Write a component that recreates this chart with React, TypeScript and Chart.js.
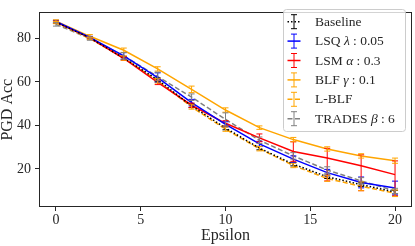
import { useEffect, useRef } from 'react';
import { Chart, registerables } from 'chart.js';
Chart.register(...registerables);

const epsilons = [0, 2, 4, 6, 8, 10, 12, 14, 16, 18, 20];
const xTicks = [0, 5, 10, 15, 20];
const yTicks = [20, 40, 60, 80];

const baseline = [87.5, 80.3, 71, 61, 49, 38.8, 29.6, 22.2, 16.4, 12.8, 9.4];
const baselineErr = [0.6, 0.5, 0.8, 0.8, 0.8, 0.8, 0.8, 0.8, 0.8, 0.8, 0.8];
const lsq = [87.8, 80.5, 72, 62, 50.5, 40.5, 31.5, 24.5, 18.3, 13.8, 11.2];
const lsqErr = [0.6, 0.5, 1.5, 2.2, 1.5, 1.2, 1.2, 1.5, 1.5, 2.5, 3.2];
const lsm = [87.5, 80.3, 70.8, 59.8, 49.3, 41, 34.3, 28, 25, 21.5, 17.4];
const lsmErrUp = [0.5, 0.5, 0.8, 1, 1, 1.2, 1.8, 4.5, 4.5, 5, 6.3];
const lsmErrDown = [0.5, 0.5, 0.8, 1, 1, 1.2, 1.8, 4.5, 10.5, 11.5, 9.8];
const blf = [88, 81, 74.6, 66, 56.6, 47.1, 39, 33.5, 29.2, 26, 23.8];
const blfErr = [0.6, 0.8, 1, 1, 1.5, 1, 0.8, 1, 1, 1, 1.2];
const lblf = [87.3, 80, 71, 60.5, 48.5, 38.3, 29.3, 21.6, 15.6, 12, 8.8];
const lblfErr = [0.5, 0.5, 1, 1, 1, 1, 1, 1, 1.3, 2, 1.5];
const trades = [86.5, 80, 72, 62.5, 53, 42.8, 33.2, 26, 19.5, 14.5, 9.9];
const tradesErr = [0.8, 0.8, 1.5, 2, 1.5, 3, 1.5, 1.5, 1.5, 1.5, 1.2];

const FONT = '"Liberation Serif", "Times New Roman", serif';

type Seg = { t: string; it?: boolean };
type Series = {
  label: Seg[];
  values: number[];
  up: number[];
  down: number[];
  color: string;
  dash: number[];
};

const series: Series[] = [
  { label: [{ t: 'Baseline' }], values: baseline, up: baselineErr, down: baselineErr, color: '#000000', dash: [1.5, 2] },
  { label: [{ t: 'LSQ ' }, { t: 'λ', it: true }, { t: ' : 0.05' }], values: lsq, up: lsqErr, down: lsqErr, color: '#0000ff', dash: [] },
  { label: [{ t: 'LSM ' }, { t: 'α', it: true }, { t: ' : 0.3' }], values: lsm, up: lsmErrUp, down: lsmErrDown, color: '#ff0000', dash: [] },
  { label: [{ t: 'BLF ' }, { t: 'γ', it: true }, { t: ' : 0.1' }], values: blf, up: blfErr, down: blfErr, color: '#ffa500', dash: [] },
  { label: [{ t: 'L-BLF' }], values: lblf, up: lblfErr, down: lblfErr, color: '#ffa500', dash: [5, 2.5] },
  { label: [{ t: 'TRADES ' }, { t: 'β', it: true }, { t: ' : 6' }], values: trades, up: tradesErr, down: tradesErr, color: '#808080', dash: [5, 2.5] },
];

const errorBarPlugin = {
  id: 'errorBars',
  afterDatasetsDraw(chart: any) {
    const { ctx, chartArea, scales } = chart;
    const xs = scales.x;
    const ys = scales.y;
    ctx.save();
    ctx.beginPath();
    ctx.rect(chartArea.left, chartArea.top, chartArea.right - chartArea.left, chartArea.bottom - chartArea.top);
    ctx.clip();
    series.forEach((s) => {
      ctx.strokeStyle = s.color;
      ctx.lineWidth = 1;
      ctx.setLineDash([]);
      s.values.forEach((v, i) => {
        const px = xs.getPixelForValue(epsilons[i]);
        const top = ys.getPixelForValue(v + s.up[i]);
        const bot = ys.getPixelForValue(v - s.down[i]);
        ctx.beginPath();
        ctx.moveTo(px, top);
        ctx.lineTo(px, bot);
        ctx.moveTo(px - 3, top);
        ctx.lineTo(px + 3, top);
        ctx.moveTo(px - 3, bot);
        ctx.lineTo(px + 3, bot);
        ctx.stroke();
      });
    });
    ctx.restore();
  },
};

const framePlugin = {
  id: 'frame',
  afterDraw(chart: any) {
    const { ctx, chartArea } = chart;
    ctx.save();
    ctx.strokeStyle = '#262626';
    ctx.lineWidth = 1;
    ctx.setLineDash([]);
    ctx.strokeRect(
      Math.round(chartArea.left) + 0.5,
      Math.round(chartArea.top) + 0.5,
      Math.round(chartArea.right - chartArea.left) - 1,
      Math.round(chartArea.bottom - chartArea.top) - 1
    );
    ctx.restore();
  },
};

const legendPlugin = {
  id: 'customLegend',
  afterDraw(chart: any) {
    const { ctx } = chart;
    ctx.save();
    const bx = 283.5, by = 9.5, bw = 122, bh = 122;
    ctx.beginPath();
    ctx.roundRect(bx, by, bw, bh, 3);
    ctx.fillStyle = 'rgba(255,255,255,0.8)';
    ctx.fill();
    ctx.strokeStyle = '#cccccc';
    ctx.lineWidth = 1;
    ctx.stroke();
    series.forEach((s, i) => {
      const y = 21.7 + 19.4 * i;
      const cx = 294;
      ctx.strokeStyle = s.color;
      ctx.lineWidth = 1.5;
      ctx.setLineDash(s.dash);
      ctx.beginPath();
      ctx.moveTo(287.5, y);
      ctx.lineTo(300.5, y);
      ctx.stroke();
      ctx.setLineDash([]);
      ctx.lineWidth = 1;
      ctx.beginPath();
      ctx.moveTo(cx, y - 7);
      ctx.lineTo(cx, y + 7);
      ctx.moveTo(cx - 3, y - 7);
      ctx.lineTo(cx + 3, y - 7);
      ctx.moveTo(cx - 3, y + 7);
      ctx.lineTo(cx + 3, y + 7);
      ctx.stroke();
      let tx = 315;
      ctx.fillStyle = '#262626';
      ctx.textBaseline = 'middle';
      ctx.textAlign = 'left';
      s.label.forEach((seg) => {
        ctx.font = (seg.it ? 'italic ' : '') + '13.5px ' + FONT;
        ctx.fillText(seg.t, tx, y + 0.5);
        tx += ctx.measureText(seg.t).width;
      });
    });
    ctx.restore();
  },
};

export default function App() {
  const ref = useRef<HTMLCanvasElement>(null);
  useEffect(() => {
    if (!ref.current) return;
    const chart = new Chart(ref.current, {
      type: 'line',
      data: {
        datasets: series.map((s) => ({
          label: s.label.map((g) => g.t).join(''),
          data: s.values.map((v, i) => ({ x: epsilons[i], y: v })),
          borderColor: s.color,
          backgroundColor: s.color,
          borderWidth: 1.5,
          borderDash: s.dash,
          pointRadius: 0,
          tension: 0,
          fill: false,
        })),
      },
      options: {
        responsive: false,
        animation: false,
        layout: { padding: { left: 0, top: 3, right: 3, bottom: 0 } },
        plugins: { legend: { display: false }, tooltip: { enabled: false } },
        scales: {
          x: {
            type: 'linear',
            min: -1,
            max: 21,
            afterBuildTicks: (scale: any) => {
              scale.ticks = xTicks.map((v) => ({ value: v }));
            },
            afterFit: (scale: any) => {
              scale.height = 39;
            },
            grid: { display: true, drawOnChartArea: false, drawTicks: true, tickLength: 4, color: '#262626' },
            border: { display: false },
            ticks: { font: { family: FONT, size: 14 }, color: '#262626', padding: 1, maxRotation: 0 },
            title: { display: true, text: 'Epsilon', font: { family: FONT, size: 16, lineHeight: 1 }, color: '#262626', padding: { top: 0, bottom: 2 } },
          },
          y: {
            type: 'linear',
            min: 2.5,
            max: 92,
            afterBuildTicks: (scale: any) => {
              scale.ticks = yTicks.map((v) => ({ value: v }));
            },
            afterFit: (scale: any) => {
              scale.width = 39;
            },
            grid: { display: true, drawOnChartArea: false, drawTicks: true, tickLength: 4, color: '#262626' },
            border: { display: false },
            ticks: { font: { family: FONT, size: 14 }, color: '#262626', padding: 4 },
            title: { display: true, text: 'PGD Acc', font: { family: FONT, size: 16, lineHeight: 1 }, color: '#262626', padding: { top: 0, bottom: 0 } },
          },
        },
      },
      plugins: [errorBarPlugin, framePlugin, legendPlugin],
    });
    return () => chart.destroy();
  }, []);
  return (
    <div style={{ position: 'absolute', left: 0, top: 0, width: 415, height: 246 }}>
      <canvas ref={ref} width={415} height={246} style={{ display: 'block' }} />
    </div>
  );
}
